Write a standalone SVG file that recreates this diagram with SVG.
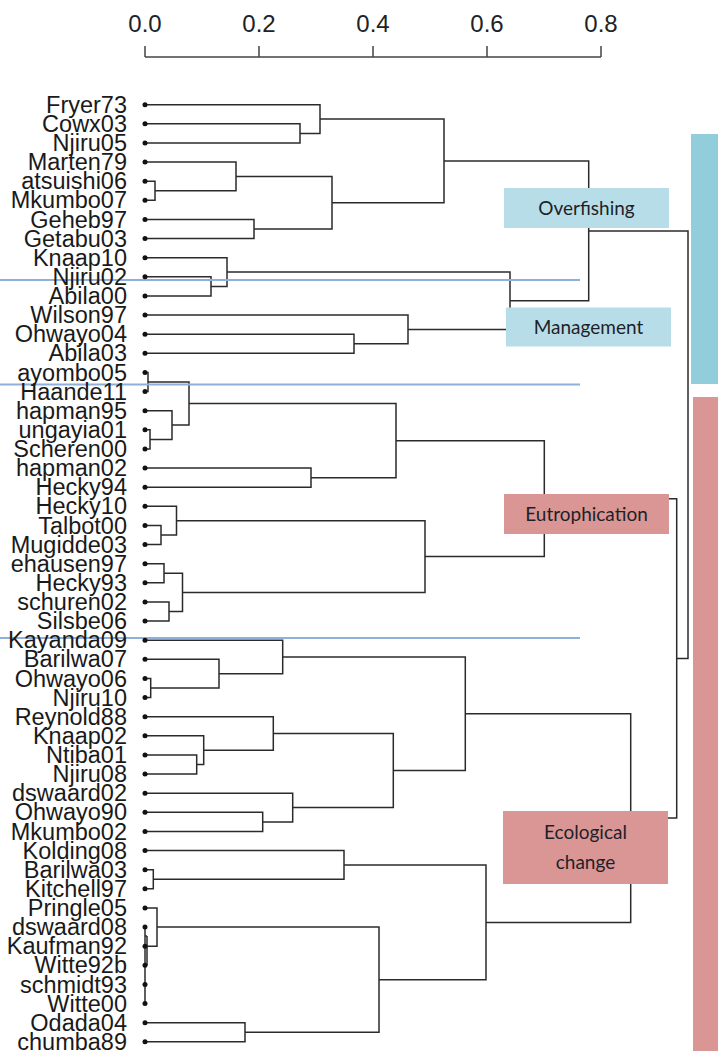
<svg xmlns="http://www.w3.org/2000/svg" width="718" height="1052" viewBox="0 0 718 1052">
<style>
.lbl{font-family:"Liberation Sans",Arial,sans-serif;font-size:23.5px;fill:#1a1a1a;text-anchor:end}
.ax{font-family:"Liberation Sans",Arial,sans-serif;font-size:24px;fill:#222;text-anchor:middle}
.axl{fill:none;stroke:#444;stroke-width:1.5}
.dl{fill:none;stroke:#2b2b2b;stroke-width:1.5}
.sep{stroke:#8eb0da;stroke-width:2}
.bt{font-family:Lato,"Open Sans",sans-serif;font-size:19px;fill:#1f1f28;text-anchor:middle}
.blue{fill:#b7dee8}
.pink{fill:#d99694}
</style>
<rect width="718" height="1052" fill="#fff"/>
<g id="axis">
<path class="axl" d="M145 57 H601 M145 46 V57 M259 46 V57 M373 46 V57 M487 46 V57 M601 46 V57"/>
<text class="ax" x="145" y="31.5">0.0</text>
<text class="ax" x="259" y="31.5">0.2</text>
<text class="ax" x="373" y="31.5">0.4</text>
<text class="ax" x="487" y="31.5">0.6</text>
<text class="ax" x="601" y="31.5">0.8</text>
</g>
<g id="bars">
<rect x="691" y="134" width="27" height="250" fill="#92cddc"/>
<rect x="693" y="397" width="25" height="654" fill="#d99694"/>
</g>
<g id="connectors" class="dl">
<path d="M145 123.8 H300 V143.0 H145"/>
<path d="M145 104.7 H320 V133.4 H300"/>
<path d="M145 181.2 H155 V200.3 H145"/>
<path d="M145 162.1 H236 V190.8 H155"/>
<path d="M145 219.5 H254 V238.6 H145"/>
<path d="M236 176.5 H332 V229.1 H254"/>
<path d="M320 119.1 H444 V202.8 H332"/>
<path d="M145 276.8 H211 V296.0 H145"/>
<path d="M145 257.7 H227 V286.4 H211"/>
<path d="M145 334.2 H354 V353.3 H145"/>
<path d="M145 315.1 H408 V343.8 H354"/>
<path d="M227 272.1 H510 V329.5 H408"/>
<path d="M444 161.0 H588.7 V300.8 H510"/>
<path d="M145 372.5 H148 V391.6 H145"/>
<path d="M145 429.8 H150 V449.0 H145"/>
<path d="M145 410.7 H172 V439.4 H150"/>
<path d="M148 382.1 H189 V425.1 H172"/>
<path d="M145 468.1 H311 V487.2 H145"/>
<path d="M189 403.6 H396 V477.7 H311"/>
<path d="M145 525.5 H161 V544.6 H145"/>
<path d="M145 506.3 H176.5 V535.1 H161"/>
<path d="M145 563.7 H164 V582.8 H145"/>
<path d="M145 602.0 H169 V621.1 H145"/>
<path d="M164 573.3 H182.5 V611.6 H169"/>
<path d="M176.5 520.7 H425 V592.5 H182.5"/>
<path d="M396 440.7 H544.3 V556.6 H425"/>
<path d="M145 678.5 H150.7 V697.6 H145"/>
<path d="M145 659.3 H219 V688.1 H150.7"/>
<path d="M145 640.2 H282.7 V673.7 H219"/>
<path d="M145 755.0 H196.7 V774.1 H145"/>
<path d="M145 735.8 H203.7 V764.6 H196.7"/>
<path d="M145 716.7 H273.3 V750.2 H203.7"/>
<path d="M145 812.3 H262.7 V831.5 H145"/>
<path d="M145 793.2 H292.7 V821.9 H262.7"/>
<path d="M273.3 733.5 H393.3 V807.6 H292.7"/>
<path d="M282.7 657.0 H465.3 V770.6 H393.3"/>
<path d="M145 869.7 H153.3 V888.8 H145"/>
<path d="M145 850.6 H344 V879.3 H153.3"/>
<path d="M145 927.1 V1003.6 M147 936 V965.3 M145 936 H147 M145 965.3 H147"/>
<path d="M145 908.0 H157 V946.2 H147"/>
<path d="M145 1022.7 H245 V1041.8 H145"/>
<path d="M157 927.1 H379 V1032.3 H245"/>
<path d="M344 865.0 H486 V979.7 H379"/>
<path d="M465.3 713.8 H630.7 V922.4 H486"/>
<path d="M544.3 498.7 H676.7 V818.1 H630.7"/>
<path d="M588.7 230.9 H688 V658.4 H676.7"/>
</g>
<g id="separators">
<line class="sep" x1="0" y1="280" x2="580" y2="280"/>
<line class="sep" x1="0" y1="384.5" x2="580" y2="384.5"/>
<line class="sep" x1="0" y1="638" x2="580" y2="638"/>
</g>
<g id="leaves">
<g fill="#111">
<circle cx="145" cy="104.7" r="2.5"/><circle cx="145" cy="123.8" r="2.5"/><circle cx="145" cy="143.0" r="2.5"/><circle cx="145" cy="162.1" r="2.5"/><circle cx="145" cy="181.2" r="2.5"/>
<circle cx="145" cy="200.3" r="2.5"/><circle cx="145" cy="219.5" r="2.5"/><circle cx="145" cy="238.6" r="2.5"/><circle cx="145" cy="257.7" r="2.5"/><circle cx="145" cy="276.8" r="2.5"/>
<circle cx="145" cy="296.0" r="2.5"/><circle cx="145" cy="315.1" r="2.5"/><circle cx="145" cy="334.2" r="2.5"/><circle cx="145" cy="353.3" r="2.5"/><circle cx="145" cy="372.5" r="2.5"/>
<circle cx="145" cy="391.6" r="2.5"/><circle cx="145" cy="410.7" r="2.5"/><circle cx="145" cy="429.8" r="2.5"/><circle cx="145" cy="449.0" r="2.5"/><circle cx="145" cy="468.1" r="2.5"/>
<circle cx="145" cy="487.2" r="2.5"/><circle cx="145" cy="506.3" r="2.5"/><circle cx="145" cy="525.5" r="2.5"/><circle cx="145" cy="544.6" r="2.5"/><circle cx="145" cy="563.7" r="2.5"/>
<circle cx="145" cy="582.8" r="2.5"/><circle cx="145" cy="602.0" r="2.5"/><circle cx="145" cy="621.1" r="2.5"/><circle cx="145" cy="640.2" r="2.5"/><circle cx="145" cy="659.3" r="2.5"/>
<circle cx="145" cy="678.5" r="2.5"/><circle cx="145" cy="697.6" r="2.5"/><circle cx="145" cy="716.7" r="2.5"/><circle cx="145" cy="735.8" r="2.5"/><circle cx="145" cy="755.0" r="2.5"/>
<circle cx="145" cy="774.1" r="2.5"/><circle cx="145" cy="793.2" r="2.5"/><circle cx="145" cy="812.3" r="2.5"/><circle cx="145" cy="831.5" r="2.5"/><circle cx="145" cy="850.6" r="2.5"/>
<circle cx="145" cy="869.7" r="2.5"/><circle cx="145" cy="888.8" r="2.5"/><circle cx="145" cy="908.0" r="2.5"/><circle cx="145" cy="927.1" r="2.5"/><circle cx="145" cy="946.2" r="2.5"/>
<circle cx="145" cy="965.3" r="2.5"/><circle cx="145" cy="984.5" r="2.5"/><circle cx="145" cy="1003.6" r="2.5"/><circle cx="145" cy="1022.7" r="2.5"/><circle cx="145" cy="1041.8" r="2.5"/>
</g>
<g class="lbl">
<text x="127" y="112.7">Fryer73</text>
<text x="127" y="131.8">Cowx03</text>
<text x="127" y="151.0">Njiru05</text>
<text x="127" y="170.1">Marten79</text>
<text x="127" y="189.2">atsuishi06</text>
<text x="127" y="208.3">Mkumbo07</text>
<text x="127" y="227.5">Geheb97</text>
<text x="127" y="246.6">Getabu03</text>
<text x="127" y="265.7">Knaap10</text>
<text x="127" y="284.8">Njiru02</text>
<text x="127" y="304.0">Abila00</text>
<text x="127" y="323.1">Wilson97</text>
<text x="127" y="342.2">Ohwayo04</text>
<text x="127" y="361.3">Abila03</text>
<text x="127" y="380.5">ayombo05</text>
<text x="127" y="399.6">Haande11</text>
<text x="127" y="418.7">hapman95</text>
<text x="127" y="437.8">ungayia01</text>
<text x="127" y="457.0">Scheren00</text>
<text x="127" y="476.1">hapman02</text>
<text x="127" y="495.2">Hecky94</text>
<text x="127" y="514.3">Hecky10</text>
<text x="127" y="533.5">Talbot00</text>
<text x="127" y="552.6">Mugidde03</text>
<text x="127" y="571.7">ehausen97</text>
<text x="127" y="590.8">Hecky93</text>
<text x="127" y="610.0">schuren02</text>
<text x="127" y="629.1">Silsbe06</text>
<text x="127" y="648.2">Kayanda09</text>
<text x="127" y="667.3">Barilwa07</text>
<text x="127" y="686.5">Ohwayo06</text>
<text x="127" y="705.6">Njiru10</text>
<text x="127" y="724.7">Reynold88</text>
<text x="127" y="743.8">Knaap02</text>
<text x="127" y="763.0">Ntiba01</text>
<text x="127" y="782.1">Njiru08</text>
<text x="127" y="801.2">dswaard02</text>
<text x="127" y="820.3">Ohwayo90</text>
<text x="127" y="839.5">Mkumbo02</text>
<text x="127" y="858.6">Kolding08</text>
<text x="127" y="877.7">Barilwa03</text>
<text x="127" y="896.8">Kitchell97</text>
<text x="127" y="916.0">Pringle05</text>
<text x="127" y="935.1">dswaard08</text>
<text x="127" y="954.2">Kaufman92</text>
<text x="127" y="973.3">Witte92b</text>
<text x="127" y="992.5">schmidt93</text>
<text x="127" y="1011.6">Witte00</text>
<text x="127" y="1030.7">Odada04</text>
<text x="127" y="1049.8">chumba89</text>
</g>
</g>
<g id="overfishing">
<rect class="blue" x="504" y="188" width="165" height="40"/>
<text class="bt" x="586.5" y="215">Overfishing</text>
</g>
<g id="management">
<rect class="blue" x="506" y="307.5" width="165" height="39"/>
<text class="bt" x="588.5" y="333.5">Management</text>
</g>
<g id="eutrophication">
<rect class="pink" x="504" y="494" width="165" height="40"/>
<text class="bt" x="586.5" y="520.5">Eutrophication</text>
</g>
<g id="ecological-change">
<rect class="pink" x="503" y="811" width="165" height="73"/>
<text class="bt" x="585.5" y="839">Ecological</text>
<text class="bt" x="585.5" y="869">change</text>
</g>
</svg>
